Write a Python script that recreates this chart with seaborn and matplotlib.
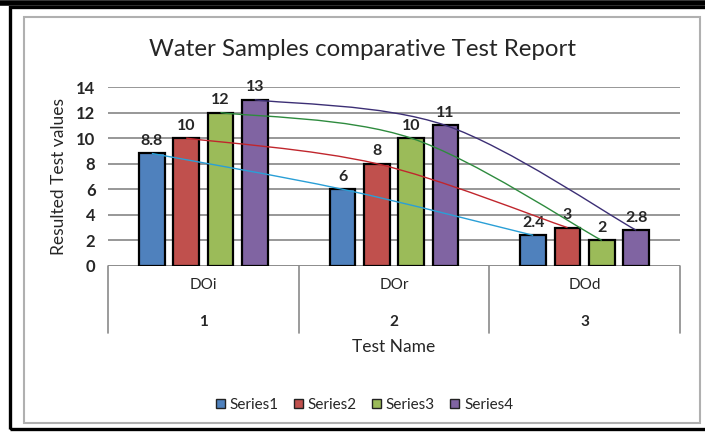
import numpy as np
import pandas as pd
import seaborn as sns
import matplotlib
matplotlib.use('Agg')
import matplotlib.pyplot as plt
from matplotlib.path import Path
from matplotlib.patches import PathPatch, Rectangle

# data
test_names = ['DOi', 'DOr', 'DOd']
test_numbers = ['1', '2', '3']
series_names = ['Series1', 'Series2', 'Series3', 'Series4']
series1 = [8.8, 6, 2.4]
series2 = [10, 8, 3]
series3 = [12, 10, 2]
series4 = [13, 11, 2.8]

bar_colors = ['#4F81BD', '#C0504D', '#9BBB59', '#8064A2']
line_colors = ['#2a9fd6', '#c0262d', '#2e8b3e', '#3c2f75']

sns.set_theme(style='white')
plt.rcParams['font.family'] = ['Lato', 'DejaVu Sans']

rows = []
for name, vals in zip(series_names, [series1, series2, series3, series4]):
    for t, v in zip(test_names, vals):
        rows.append({'test': t, 'value': v, 'series': name})
df = pd.DataFrame(rows)

fig = plt.figure(figsize=(7.05, 4.32), dpi=100)
ax = fig.add_axes([108 / 705, (432 - 266) / 432, 572 / 705, 179 / 432])

sns.barplot(data=df, x='test', y='value', hue='series', palette=bar_colors,
            saturation=1, width=0.72, gap=0.25, edgecolor='black', linewidth=1.6,
            ax=ax, legend=False, zorder=2)

ax.set_xlim(-0.5, 2.5)
ax.set_ylim(0, 14)
ax.set_yticks(range(0, 15, 2))
ax.tick_params(axis='y', labelsize=12, length=0, pad=9)
for lbl in ax.get_yticklabels():
    lbl.set_fontweight('bold')
ax.set_xticks([])
ax.set_xlabel('')
ax.set_ylabel('Resulted Test values', fontsize=12.5, labelpad=7)
ax.yaxis.grid(True, color='#8f8f8f', linewidth=1.3, zorder=0)
ax.set_axisbelow(True)
sns.despine(ax=ax, left=True, top=True, right=True, bottom=True)

# value labels
for cont in ax.containers:
    ax.bar_label(cont, fmt='%g', padding=4, fontsize=11.5, fontweight='bold')

# smoothed lines through each series' bar tops
for cont, col in zip(ax.containers, line_colors):
    pts = np.array([[p.get_x() + p.get_width() / 2, p.get_height()] for p in cont])
    ext = np.vstack([pts[:1], pts, pts[-1:]])
    verts = [tuple(pts[0])]
    codes = [Path.MOVETO]
    for i in range(len(pts) - 1):
        c1 = ext[i + 1] + (ext[i + 2] - ext[i]) / 6
        c2 = ext[i + 2] - (ext[i + 3] - ext[i + 1]) / 6
        verts += [tuple(c1), tuple(c2), tuple(ext[i + 2])]
        codes += [Path.CURVE4] * 3
    ax.add_patch(PathPatch(Path(verts, codes), facecolor='none',
                           edgecolor=col, linewidth=1.0, zorder=4))

# two-level category axis
xt = ax.get_xaxis_transform()
ax.axhline(0, color='#8f8f8f', linewidth=1.3, zorder=1)
for x in [-0.5, 0.5, 1.5, 2.5]:
    ax.plot([x, x], [0, -0.375], transform=xt, color='#8a8a8a',
            linewidth=1.2, clip_on=False)
for i, (n, k) in enumerate(zip(test_names, test_numbers)):
    ax.text(i, -0.108, n, transform=xt, ha='center', va='center', fontsize=11)
    ax.text(i, -0.315, k, transform=xt, ha='center', va='center', fontsize=11,
            fontweight='bold')
ax.text(0.5, -0.455, 'Test Name', transform=ax.transAxes, ha='center',
        va='center', fontsize=12.5)

fig.text(0.514, 1 - 50 / 432, 'Water Samples comparative Test Report',
         ha='center', va='center', fontsize=17.3)

handles = [Rectangle((0, 0), 1, 1, facecolor=c, edgecolor='#222222', linewidth=1)
           for c in bar_colors]
fig.legend(handles, series_names, loc='center', bbox_to_anchor=(0.517, 1 - 405 / 432),
           ncol=4, frameon=False, fontsize=11, handlelength=0.6, handleheight=0.6,
           handletextpad=0.3, columnspacing=1.0)

# frames around the chart
fig.patches.append(Rectangle((24 / 705, (432 - 423) / 432), 676 / 705, 406 / 432,
                             transform=fig.transFigure, facecolor='none',
                             edgecolor='#b0b0b0', linewidth=1.5))
fig.patches.append(Rectangle((10 / 705, 3 / 432), 700 / 705, 422 / 432,
                             transform=fig.transFigure, facecolor='none',
                             edgecolor='black', linewidth=2.4))
fig.add_artist(plt.Line2D([0, 1], [1 - 2.5 / 432, 1 - 2.5 / 432],
                          transform=fig.transFigure, color='black', linewidth=4))

plt.savefig('out.png', dpi=100)
plt.close()
